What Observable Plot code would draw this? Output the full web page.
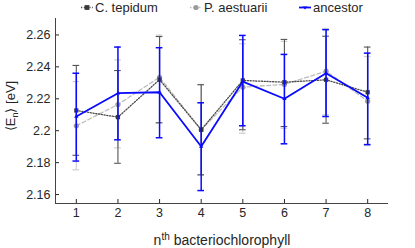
<!DOCTYPE html>
<html>
<head>
<meta charset="utf-8">
<script src="https://cdn.jsdelivr.net/npm/d3@7"></script>
<script src="https://cdn.jsdelivr.net/npm/@observablehq/plot@0.6"></script>
<style>
  html, body { margin: 0; padding: 0; background: #fff; }
  #wrap { position: relative; width: 415px; height: 248px; font-family: "Liberation Sans", Arial, sans-serif; color: #262626; }
  #wrap svg.plot { position: absolute; left: 0; top: 0; }
  .legend { position: absolute; top: 0; height: 15px; font-size: 13px; line-height: 15px; white-space: nowrap; display: flex; align-items: center; }
  .legend svg { margin-right: 2px; }
  #ylab { position: absolute; left: 10px; top: 106px; font-size: 13px; white-space: nowrap; transform: translate(-50%, -50%) rotate(-90deg); }
  #xlab { position: absolute; left: 222px; top: 232px; font-size: 14px; white-space: nowrap; transform: translateX(-50%); }
  sup { font-size: 10px; vertical-align: 5px; line-height: 0; }
  sub { font-size: 9px; vertical-align: -3px; line-height: 0; }
</style>
</head>
<body>
<div id="wrap"></div>
<script>
// ---- data ----
const positions = [1, 2, 3, 4, 5, 6, 7, 8];
const xTicks = [1, 2, 3, 4, 5, 6, 7, 8];
const yTicks = [2.16, 2.18, 2.2, 2.22, 2.24, 2.26];
const seriesNames = ["C. tepidum", "P. aestuarii", "ancestor"];

const tepidumMean = [2.2127, 2.2085, 2.2320, 2.2006, 2.2315, 2.2304, 2.2319, 2.2241];
const tepidumLow  = [2.1846, 2.1796, 2.2050, 2.1724, 2.2006, 2.2026, 2.2047, 2.1949];
const tepidumHigh = [2.2409, 2.2377, 2.2590, 2.2288, 2.2570, 2.2572, 2.2592, 2.2524];

const aestuariiMean = [2.2031, 2.2164, 2.2335, 2.2006, 2.2273, 2.2290, 2.2373, 2.2185];
const aestuariiLow  = [2.1755, 2.1893, 2.2047, 2.1720, 2.1984, 2.2015, 2.2100, 2.1907];
const aestuariiHigh = [2.2308, 2.2444, 2.2599, 2.2290, 2.2545, 2.2560, 2.2641, 2.2465];

const ancestorMean = [2.2089, 2.2235, 2.2241, 2.1901, 2.2308, 2.2200, 2.2360, 2.2206];
const ancestorLow  = [2.1810, 2.1943, 2.1956, 2.1625, 2.2031, 2.1918, 2.2089, 2.1913];
const ancestorHigh = [2.2360, 2.2524, 2.2520, 2.2175, 2.2597, 2.2478, 2.2633, 2.2486];

const xDomain = [0.5, 8.5];
const yDomain = [2.1544, 2.2703];

function rows(mean, low, high) {
  return positions.map((x, i) => ({ x, mean: mean[i], lo: low[i], hi: high[i] }));
}
const tep = rows(tepidumMean, tepidumLow, tepidumHigh);
const aes = rows(aestuariiMean, aestuariiLow, aestuariiHigh);
const anc = rows(ancestorMean, ancestorLow, ancestorHigh);

const capHalf = 0.08;
function errorMarks(data, stroke, strokeWidth) {
  return [
    Plot.ruleX(data, { x: "x", y1: "lo", y2: "hi", stroke, strokeWidth }),
    Plot.ruleY(data, { y: "hi", x1: d => d.x - capHalf, x2: d => d.x + capHalf, stroke, strokeWidth }),
    Plot.ruleY(data, { y: "lo", x1: d => d.x - capHalf, x2: d => d.x + capHalf, stroke, strokeWidth })
  ];
}

const chart = Plot.plot({
  width: 415,
  height: 248,
  marginTop: 18,
  marginBottom: 45,
  marginLeft: 55,
  marginRight: 27,
  style: { fontFamily: "'Liberation Sans', Arial, sans-serif", fontSize: "12.5px", color: "#262626", background: "transparent" },
  x: { domain: xDomain, ticks: xTicks, tickSize: -4, tickPadding: 9, label: null, tickFormat: d => String(d) },
  y: { domain: yDomain, ticks: yTicks, tickSize: -4, tickPadding: 9, label: null, tickFormat: d => String(+d.toFixed(2)) },
  marks: [
    // P. aestuarii
    ...errorMarks(aes, "#cfcfcf", 1.2),
    Plot.line(aes, { x: "x", y: "mean", stroke: "#bdbdbd", strokeWidth: 1.3, strokeDasharray: "4,2.5" }),
    Plot.dot(aes, { x: "x", y: "mean", r: 2.6, fill: "#9a9a9a", symbol: "circle" }),
    // C. tepidum
    ...errorMarks(tep, "#555555", 1.1),
    Plot.line(tep, { x: "x", y: "mean", stroke: "#4a4a4a", strokeWidth: 1.3, strokeDasharray: "1.2,1.6" }),
    Plot.dot(tep, { x: "x", y: "mean", r: 2.4, fill: "#3a3a3a", symbol: "square" }),
    // ancestor
    ...errorMarks(anc, "#0a0aff", 1.5),
    Plot.line(anc, { x: "x", y: "mean", stroke: "#0a0aff", strokeWidth: 1.8 }),
    Plot.dot(anc, { x: "x", y: "mean", r: 1.6, fill: "#0a0aff", symbol: "triangle" }),
    // axis lines
    Plot.ruleX([xDomain[0]], { stroke: "#444" }),
    Plot.ruleY([yDomain[0]], { stroke: "#444" })
  ]
});
chart.classList.add("plot");
const wrap = document.getElementById("wrap");
wrap.appendChild(chart);

// legend
const legendDefs = [
  { name: seriesNames[0], left: 81, glyph: '<line x1="0" y1="7.5" x2="12" y2="7.5" stroke="#4a4a4a" stroke-width="1.3" stroke-dasharray="1.2,1.6"/><rect x="3.6" y="5.1" width="4.8" height="4.8" fill="#3a3a3a"/>' },
  { name: seriesNames[1], left: 190, glyph: '<line x1="0" y1="7.5" x2="12" y2="7.5" stroke="#bdbdbd" stroke-width="1.3" stroke-dasharray="1.5,1.5"/><circle cx="6" cy="7.5" r="2.6" fill="#9a9a9a"/>' },
  { name: seriesNames[2], left: 299, glyph: '<line x1="0" y1="7.5" x2="12" y2="7.5" stroke="#0a0aff" stroke-width="1.8"/><path d="M3.5,6.5 L8.5,6.5 L6,9.5 Z" fill="#0a0aff"/>' }
];
for (const L of legendDefs) {
  const d = document.createElement("div");
  d.className = "legend";
  d.style.left = L.left + "px";
  d.innerHTML = `<svg width="12" height="15">${L.glyph}</svg><span>${L.name}</span>`;
  wrap.appendChild(d);
}

const yl = document.createElement("div");
yl.id = "ylab";
yl.innerHTML = "⟨E<sub>n</sub>⟩ [eV]";
wrap.appendChild(yl);

const xl = document.createElement("div");
xl.id = "xlab";
xl.innerHTML = "n<sup>th</sup> bacteriochlorophyll";
wrap.appendChild(xl);
</script>
</body>
</html>
